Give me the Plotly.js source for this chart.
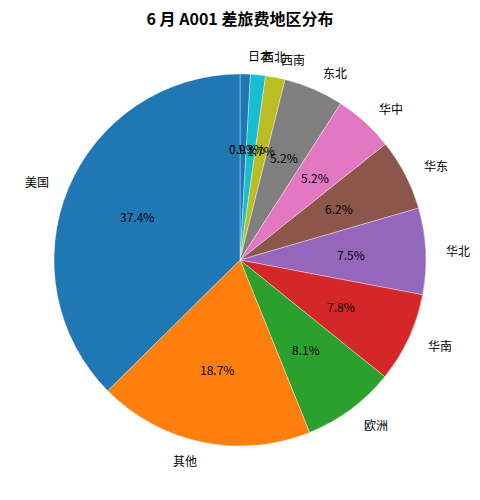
<!DOCTYPE html>
<html>
<head>
<meta charset="utf-8">
<script src="https://cdn.plot.ly/plotly-3.0.1.min.js"></script>
<style>
  html, body { margin: 0; padding: 0; background: #fff; }
  #chart { width: 480px; height: 500px; }
</style>
</head>
<body>
<div id="chart"></div>
<script>
// 各地区差旅费占比（%）
const regions = ['美国', '其他', '欧洲', '华南', '华北', '华东', '华中', '东北', '西南', '西北', '日本'];
const shares = [37.4, 18.7, 8.1, 7.8, 7.5, 6.2, 5.2, 5.2, 1.7, 1.3, 0.9];
const sliceColors = ['#1f77b4', '#ff7f0e', '#2ca02c', '#d62728', '#9467bd', '#8c564b',
                     '#e377c2', '#7f7f7f', '#bcbd22', '#17becf', '#1f77b4'];

const W = 480, H = 500;
const margin = { t: 74, b: 54, l: 0, r: 0 };
const FONT = 'Noto Sans CJK SC, Noto Sans, sans-serif';

// 标签位置：沿用 matplotlib 的做法，名称在 1.1r，百分比在 0.6r
const buildAnnotations = () => {
  const plotW = W - margin.l - margin.r;
  const plotH = H - margin.t - margin.b;
  const radius = Math.min(plotW, plotH) / 2;
  const total = shares.reduce((a, b) => a + b, 0);
  const notes = [];
  let start = 90;
  shares.forEach((v, i) => {
    const span = v / total * 360;
    const mid = (start + span / 2) * Math.PI / 180;
    const cx = Math.cos(mid), cy = Math.sin(mid);
    const toPaper = (r) => ({
      x: 0.5 + r * cx * radius / plotW,
      y: 0.5 + r * cy * radius / plotH
    });
    const lp = toPaper(1.1);
    notes.push({
      x: lp.x, y: lp.y, xref: 'paper', yref: 'paper',
      text: regions[i], showarrow: false,
      xanchor: cx > 0 ? 'left' : 'right', yanchor: 'middle',
      font: { family: FONT, size: 12, color: '#000' }
    });
    const pp = toPaper(0.6);
    notes.push({
      x: pp.x, y: pp.y, xref: 'paper', yref: 'paper',
      text: v.toFixed(1) + '%', showarrow: false,
      xanchor: 'center', yanchor: 'middle',
      font: { family: FONT, size: 12, color: '#000' }
    });
    start += span;
  });
  return notes;
};

// 扇区逆时针排列：反转顺序后按顺时针画，首个扇区落在 12 点方向左侧
const rev = (arr) => arr.slice().reverse();

const trace = {
  type: 'pie',
  labels: rev(regions),
  values: rev(shares),
  sort: false,
  direction: 'clockwise',
  rotation: 0,
  textinfo: 'none',
  hoverinfo: 'label+percent',
  marker: { colors: rev(sliceColors), line: { color: 'rgba(255,255,255,0.6)', width: 0.6 } },
  showlegend: false
};

const layout = {
  width: W,
  height: H,
  margin: margin,
  paper_bgcolor: '#fff',
  plot_bgcolor: '#fff',
  font: { family: FONT, size: 12, color: '#000' },
  title: {
    text: '<b>6 月 A001 差旅费地区分布</b>',
    x: 0.5, xanchor: 'center',
    y: 0.962, yanchor: 'middle',
    font: { family: FONT, size: 16, color: '#000' }
  },
  annotations: buildAnnotations()
};

Plotly.newPlot('chart', [trace], layout, { displayModeBar: false, staticPlot: true });
</script>
</body>
</html>
